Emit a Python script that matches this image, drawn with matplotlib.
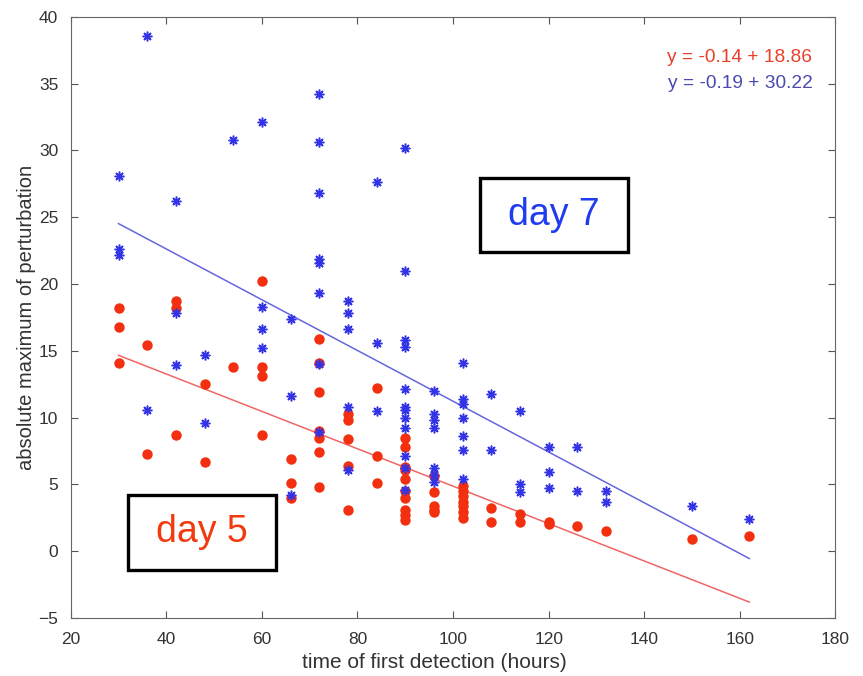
import numpy as np
import matplotlib
matplotlib.use("Agg")
import matplotlib.pyplot as plt
from matplotlib.patches import Rectangle

# day 7 measurements (blue stars)
day7_x = [30, 30, 30, 36, 36, 42, 42, 42, 48, 48, 54, 60, 60, 60, 60, 66, 66, 66,
          72, 72, 72, 72, 72, 72, 72, 72, 78, 78, 78, 78, 78, 84, 84, 84,
          90, 90, 90, 90, 90, 90, 90, 90, 90, 90, 90, 90,
          96, 96, 96, 96, 96, 96, 96, 102, 102, 102, 102, 102, 102, 102,
          108, 108, 114, 114, 114, 120, 120, 120, 126, 126, 132, 132, 150, 162]
day7_y = [28.1, 22.6, 22.2, 38.6, 10.6, 26.2, 17.8, 13.9, 14.7, 9.6, 30.8, 32.1, 18.3, 16.6, 15.2, 17.4, 11.6, 4.2,
          34.2, 30.6, 26.8, 21.9, 21.6, 19.3, 14.0, 8.9, 18.7, 17.8, 16.6, 10.8, 6.1, 27.6, 15.6, 10.5,
          30.2, 21.0, 15.8, 15.3, 12.1, 10.8, 10.6, 10.0, 9.2, 7.1, 6.2, 4.6,
          12.0, 10.3, 9.8, 9.2, 6.2, 5.7, 5.2, 14.1, 11.4, 11.0, 10.0, 8.6, 7.6, 5.4,
          11.8, 7.6, 10.5, 5.0, 4.4, 7.8, 5.9, 4.7, 7.8, 4.5, 4.5, 3.7, 3.4, 2.4]

# day 5 measurements (red circles)
day5_x = [30, 30, 30, 36, 36, 42, 42, 42, 48, 48, 54, 60, 60, 60, 60, 66, 66, 66,
          72, 72, 72, 72, 72, 72, 72, 78, 78, 78, 78, 78, 84, 84, 84,
          90, 90, 90, 90, 90, 90, 90, 90, 90, 90,
          96, 96, 96, 96, 96, 102, 102, 102, 102, 102, 102, 102,
          108, 108, 114, 114, 120, 120, 126, 132, 150, 162]
day5_y = [18.2, 16.8, 14.1, 15.4, 7.3, 18.7, 18.2, 8.7, 12.5, 6.7, 13.8, 20.2, 13.8, 13.1, 8.7, 6.9, 5.1, 4.0,
          15.9, 14.1, 11.9, 9.0, 8.5, 7.4, 4.8, 10.3, 9.8, 8.4, 6.4, 3.1, 12.2, 7.1, 5.1,
          8.5, 7.8, 6.3, 6.1, 5.4, 4.5, 4.0, 3.1, 2.7, 2.3,
          5.6, 4.4, 3.4, 3.1, 2.9, 4.9, 4.5, 4.1, 3.7, 3.4, 2.9, 2.5,
          3.2, 2.2, 2.8, 2.2, 2.2, 2.0, 1.9, 1.5, 0.9, 1.1]

# fitted lines: slope, intercept
fit5 = (-0.14, 18.86)
fit7 = (-0.19, 30.22)

red = '#f2300f'
blue = '#3333e6'

plt.rcParams['font.family'] = ['Liberation Sans', 'DejaVu Sans']

fig = plt.figure(figsize=(8.63, 6.76), dpi=100)
ax = fig.add_axes([0.082, 0.086, 0.886, 0.889])

ax.plot(day5_x, day5_y, 'o', color=red, markersize=7.5, markeredgewidth=0, zorder=3)
ax.plot(day7_x, day7_y, linestyle='none', marker=(8, 2, 0), color=blue,
        markersize=7, markeredgewidth=1.1, zorder=4)

xs = np.array([30, 162])
ax.plot(xs, fit5[0] * xs + fit5[1], color='#f06666', linewidth=1.1, zorder=2)
ax.plot(xs, fit7[0] * xs + fit7[1], color='#6666dd', linewidth=1.1, zorder=2)

ax.text(0.97, 0.933, 'y = -0.14 + 18.86', color='#e8402a', fontsize=13.8,
        ha='right', va='center', transform=ax.transAxes)
ax.text(0.97, 0.890, 'y = -0.19 + 30.22', color='#4a4ab0', fontsize=13.8,
        ha='right', va='center', transform=ax.transAxes)

# labelled boxes (axes fraction)
for (x0, y0, w, h, label, col) in [(0.535, 0.609, 0.194, 0.123, 'day 7', '#1f3cf0'),
                                   (0.075, 0.080, 0.193, 0.125, 'day 5', '#f23a0f')]:
    ax.add_patch(Rectangle((x0, y0), w, h, transform=ax.transAxes, facecolor='white',
                           edgecolor='black', linewidth=2.4, zorder=5))
    ax.text(x0 + w / 2, y0 + h / 2, label, color=col, fontsize=27, ha='center', va='center',
            transform=ax.transAxes, zorder=6)

ax.set_xlim(20, 180)
ax.set_ylim(-5, 40)
ax.set_xticks(np.arange(20, 181, 20))
ax.set_yticks(np.arange(-5, 41, 5))
ax.tick_params(direction='in', top=True, right=True, length=5, color='#555555',
               labelsize=12.5, labelcolor='#333333')
ax.tick_params(axis='x', pad=10)
ax.tick_params(axis='y', pad=9)
for s in ax.spines.values():
    s.set_color('#666666')

ax.set_xlabel('time of first detection (hours)', fontsize=15, color='#333333')
ax.xaxis.set_label_coords(0.476, -0.058)
ax.set_ylabel('absolute maximum of perturbation', fontsize=14.5, color='#333333', labelpad=2)

fig.savefig('out.png', dpi=100)
